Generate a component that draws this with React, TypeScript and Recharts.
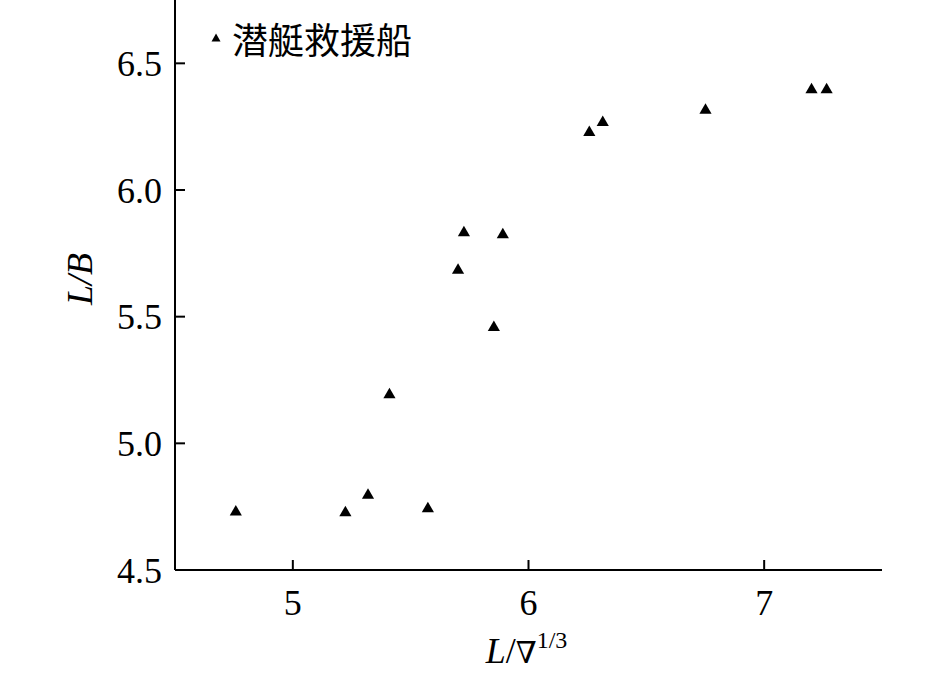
import { ScatterChart, Scatter, XAxis, YAxis, ZAxis, Legend } from "recharts";

const seriesName = "潜艇救援船";
const xValues = [4.758, 5.223, 5.319, 5.573, 5.41, 5.726, 5.891, 5.701, 5.853, 6.258, 6.315, 6.751, 7.201, 7.265];
const yValues = [4.729, 4.726, 4.795, 4.742, 5.192, 5.831, 5.823, 5.683, 5.457, 6.227, 6.266, 6.315, 6.396, 6.396];
const xTicks = [5, 6, 7];
const yTicks = [4.5, 5.0, 5.5, 6.0, 6.5];

const data = xValues.map((x, i) => ({ x, y: yValues[i] }));

const SERIF = '"Liberation Serif", "Times New Roman", serif';
const X_MARGIN = 19;
const Y_MARGIN = 13;
const TICK_LEN = 10;

// ticks point inward, so each tick draws its own short line
function XTick(props: any) {
  const { x, y, payload } = props;
  const axisY = Number(y) - X_MARGIN;
  return (
    <g>
      <path d={`M${x},${axisY}V${axisY - TICK_LEN}`} stroke="#000" strokeWidth={2} fill="none" />
      <text x={x} y={y} dy="0.71em" textAnchor="middle" fontSize={36} fontFamily={SERIF} fill="#000">
        {payload.value}
      </text>
    </g>
  );
}

function YTick(props: any) {
  const { x, y, payload } = props;
  const axisX = Number(x) + Y_MARGIN;
  return (
    <g>
      <path d={`M${axisX},${y}H${axisX + TICK_LEN}`} stroke="#000" strokeWidth={2} fill="none" />
      <text x={x} y={y} dy="0.355em" textAnchor="end" fontSize={36} fontFamily={SERIF} fill="#000">
        {Number(payload.value).toFixed(1)}
      </text>
    </g>
  );
}

function LegendContent() {
  return (
    <div style={{ display: "flex", alignItems: "center" }}>
      <svg width={12} height={12} style={{ marginRight: 10 }}>
        <polygon points="6,1.5 10.5,9.5 1.5,9.5" fill="#000" />
      </svg>
      <span style={{ fontFamily: '"Noto Sans CJK SC", sans-serif', fontSize: 36, color: "#000", lineHeight: 1 }}>
        {seriesName}
      </span>
    </div>
  );
}

export default function App() {
  return (
    <div style={{ position: "absolute", left: 0, top: 0, background: "#fff" }}>
      <ScatterChart width={945} height={677} margin={{ top: 0, right: 63, bottom: 0, left: 0 }}>
        <XAxis
          type="number"
          dataKey="x"
          domain={[4.5, 7.5]}
          ticks={xTicks}
          interval={0}
          height={107}
          tickSize={0}
          tickLine={false}
          tickMargin={X_MARGIN}
          tick={<XTick />}
          stroke="#000"
          strokeWidth={2}
          label={{
            content: ({ viewBox }: any) => (
              <text x={viewBox.x + viewBox.width / 2 - 2} y={663} textAnchor="middle" fontFamily={SERIF} fontSize={36} fill="#000">
                <tspan fontStyle="italic">L</tspan>
                <tspan>/</tspan>
                <tspan fontFamily='"DejaVu Serif", serif' fontSize={30}>∇</tspan>
                <tspan fontSize={24} dy={-15}>1/3</tspan>
              </text>
            ),
          }}
        />
        <YAxis
          type="number"
          dataKey="y"
          domain={[4.5, 6.75]}
          ticks={yTicks}
          interval={0}
          width={175}
          tickSize={0}
          tickLine={false}
          tickMargin={Y_MARGIN}
          tick={<YTick />}
          stroke="#000"
          strokeWidth={2}
          label={{
            content: ({ viewBox }: any) => {
              const cx = viewBox.x + 92;
              const cy = viewBox.y + viewBox.height / 2 - 6;
              return (
                <text x={cx} y={cy} transform={`rotate(-90 ${cx} ${cy})`} textAnchor="middle" fontFamily={SERIF} fontSize={36} fontStyle="italic" fill="#000">
                  L/B
                </text>
              );
            },
          }}
        />
        <ZAxis range={[42, 42]} />
        <Legend
          content={<LegendContent />}
          layout="horizontal"
          verticalAlign="middle"
          align="center"
          wrapperStyle={{ top: 20, left: 210, width: "auto" }}
        />
        <Scatter name={seriesName} data={data} shape="triangle" fill="#000" isAnimationActive={false} />
      </ScatterChart>
    </div>
  );
}
